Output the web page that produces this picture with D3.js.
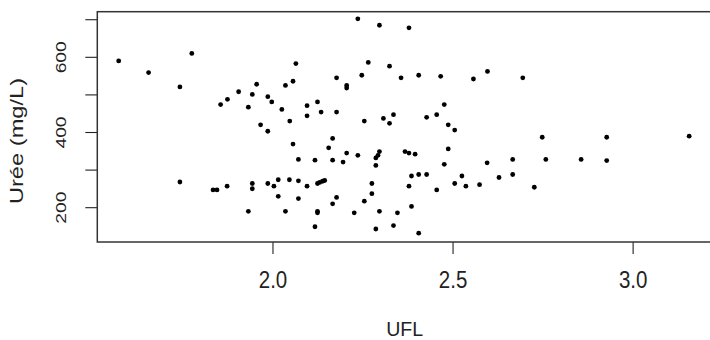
<!DOCTYPE html>
<html>
<head>
<meta charset="utf-8">
<script src="https://cdn.jsdelivr.net/npm/d3@7"></script>
<style>
  html, body { margin: 0; padding: 0; background: #fff; }
  svg { display: block; }
  text { font-family: "Liberation Sans", Arial, sans-serif; }
</style>
</head>
<body>
<script>
// ---- data ----
const ufl = [
  1.573, 1.656, 1.776, 1.743, 1.956, 1.906, 1.944, 1.875, 1.856, 1.933,
  1.987, 1.998, 2.026, 1.967, 1.987, 2.036, 2.057, 2.065, 2.048, 2.237,
  2.297, 2.379, 2.266, 2.325, 2.248, 2.178, 2.206, 2.206, 2.357, 2.406,
  2.467, 2.558, 2.597, 2.096, 2.125, 2.096, 2.135, 2.178, 2.255, 2.308,
  2.325, 2.336, 2.428, 2.456, 2.477, 2.488, 2.506, 2.167, 2.695, 2.749,
  2.928, 3.157, 2.057, 2.072, 2.072, 2.072, 1.743, 1.835, 1.846, 1.874,
  1.944, 1.944, 1.987, 2.004, 2.016, 2.047, 2.016, 1.933, 2.036, 2.096,
  2.156, 2.118, 2.167, 2.206, 2.196, 2.237, 2.297, 2.293, 2.287, 2.287,
  2.368, 2.379, 2.396, 2.488, 2.477, 2.596, 2.125, 2.131, 2.139, 2.145,
  2.276, 2.276, 2.178, 2.167, 2.255, 2.125, 2.125, 2.227, 2.297, 2.347,
  2.386, 2.406, 2.428, 2.379, 2.456, 2.506, 2.526, 2.537, 2.575, 2.386,
  2.118, 2.287, 2.336, 2.406, 2.667, 2.759, 2.857, 2.928, 2.629, 2.667,
  2.727
];
const uree = [
  589, 558, 609, 520, 527, 507, 500, 487, 473, 466,
  494, 480, 460, 419, 402, 524, 535, 582, 429, 701,
  684, 677, 585, 575, 551, 544, 524, 517, 544, 551,
  548, 541, 561, 470, 480, 443, 453, 453, 429, 436,
  423, 446, 439, 446, 473, 419, 405, 383, 544, 386,
  386, 389, 368, 327, 270, 223, 267, 246, 246, 256,
  263, 249, 263, 256, 273, 273, 229, 189, 189, 256,
  358, 325, 325, 344, 320, 338, 348, 338, 331, 311,
  348, 344, 341, 355, 314, 318, 263, 266, 269, 271,
  263, 236, 226, 209, 216, 189, 185, 185, 189, 185,
  283, 287, 287, 256, 246, 263, 283, 256, 260, 202,
  148, 142, 151, 131, 327, 327, 327, 324, 279, 287,
  253
];
const xTicks = [2.0, 2.5, 3.0];
const xTickLabels = ["2.0", "2.5", "3.0"];
const yTicks = [200, 300, 400, 500, 600, 700];
const yTickLabels = ["200", "", "400", "", "600", ""];
const xTitle = "UFL";
const yTitle = "Urée (mg/L)";

// ---- layout ----
const W = 710, H = 340;
const x0 = 97.3, x1 = 712, y0 = 11.7, y1 = 242;

const svg = d3.select("body").append("svg")
  .attr("width", W).attr("height", H)
  .attr("viewBox", `0 0 ${W} ${H}`);

svg.append("rect").attr("width", W).attr("height", H).attr("fill", "#fff");

const x = d3.scaleLinear().domain([1.5136, 3.2204]).range([x0, x1]);
const y = d3.scaleLinear().domain([107.4, 720]).range([y1, y0]);

// points
svg.append("g")
  .selectAll("circle")
  .data(ufl.map((d, i) => [d, uree[i]]))
  .join("circle")
  .attr("cx", d => x(d[0]))
  .attr("cy", d => y(d[1]))
  .attr("r", 2.4)
  .attr("fill", "#000");

// y axis
const gy = svg.append("g")
  .attr("transform", `translate(${x0},0)`)
  .call(d3.axisLeft(y).tickValues(yTicks).tickSize(12)
    .tickFormat((d, i) => yTickLabels[i]));
gy.select(".domain").remove();
gy.selectAll(".tick line").attr("stroke", "#222").attr("stroke-width", 1.1);
gy.selectAll(".tick text")
  .attr("x", null).attr("dy", null)
  .attr("text-anchor", "middle")
  .attr("fill", "#222")
  .attr("font-size", 15.4)
  .attr("transform", `translate(${66 - x0},0) rotate(-90) scale(1.25,1)`);

// x axis
const gx = svg.append("g")
  .attr("transform", `translate(0,${y1})`)
  .call(d3.axisBottom(x).tickValues(xTicks).tickSize(12)
    .tickFormat((d, i) => xTickLabels[i]));
gx.select(".domain").remove();
gx.selectAll(".tick line").attr("stroke", "#222").attr("stroke-width", 1.1);
gx.selectAll(".tick text")
  .attr("y", null).attr("dy", null)
  .attr("text-anchor", "middle")
  .attr("fill", "#222")
  .attr("font-size", 20.5)
  .attr("transform", `translate(0,${287.5 - y1}) scale(1,1.13)`);

// box
svg.append("rect")
  .attr("x", x0).attr("y", y0)
  .attr("width", x1 - x0).attr("height", y1 - y0)
  .attr("fill", "none")
  .attr("stroke", "#333")
  .attr("stroke-width", 1.5);

// titles
svg.append("text")
  .attr("text-anchor", "middle")
  .attr("font-size", 19.6)
  .attr("fill", "#222")
  .attr("transform", `translate(${(x0 + x1) / 2},335.5) scale(1,1.07)`)
  .text(xTitle);

svg.append("text")
  .attr("text-anchor", "middle")
  .attr("font-size", 17.8)
  .attr("fill", "#222")
  .attr("transform", `translate(22.9,141) rotate(-90) scale(1.33,1)`)
  .text(yTitle);
</script>
</body>
</html>
